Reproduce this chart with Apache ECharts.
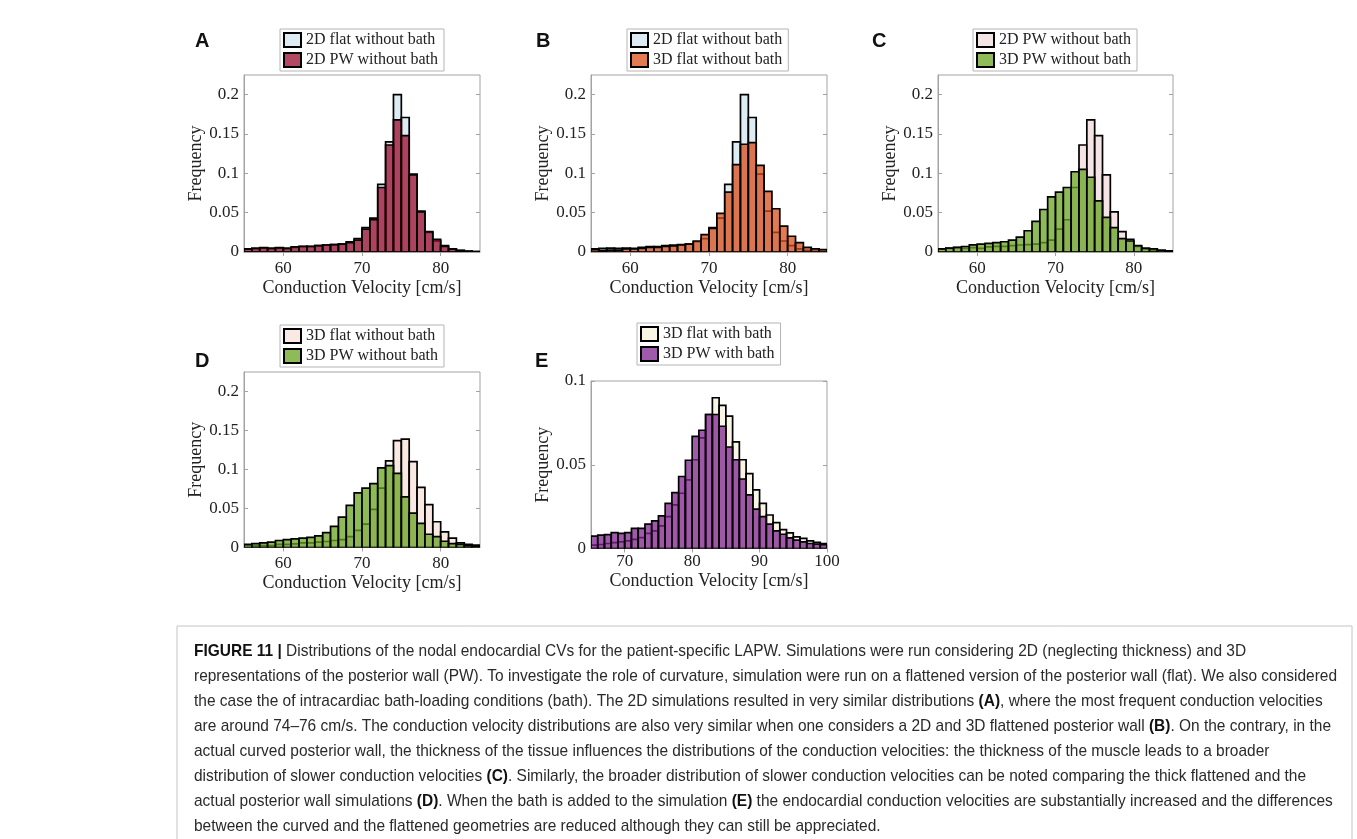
<!DOCTYPE html>
<html>
<head>
<meta charset="utf-8">
<script src="https://cdn.jsdelivr.net/npm/echarts@6/dist/echarts.min.js"></script>
<style>
html,body{margin:0;padding:0;background:#fff;}
#c{width:1357px;height:839px;}
</style>
</head>
<body>
<div id="c"></div>
<script>
// ---------- DATA ----------
const binStartAD = [55,56,57,58,59,60,61,62,63,64,65,66,67,68,69,70,71,72,73,74,75,76,77,78,79,80,81,82,83,84];
const binStartE = [65,66,67,68,69,70,71,72,73,74,75,76,77,78,79,80,81,82,83,84,85,86,87,88,89,90,91,92,93,94,95,96,97,98,99];
const binWidth = 1;

// 2D flat without bath
const flat2D = [0.004,0.0045,0.005,0.0045,0.005,0.0045,0.006,0.007,0.007,0.008,0.0089,0.0094,0.010,0.013,0.017,0.031,0.043,0.086,0.140,0.200,0.171,0.099,0.052,0.025,0.014,0.008,0.004,0.002,0.001,0.0005];
// 2D PW without bath
const pw2D = [0.0035,0.0047,0.0055,0.0047,0.0055,0.0047,0.0064,0.0072,0.0072,0.008,0.0089,0.0094,0.010,0.012,0.015,0.029,0.041,0.082,0.136,0.168,0.148,0.098,0.051,0.026,0.016,0.007,0.0035,0.002,0.001,0.0005];
// 3D flat without bath
const flat3D = [0.003,0.002,0.0025,0.0025,0.004,0.004,0.0047,0.006,0.006,0.007,0.0077,0.009,0.010,0.014,0.022,0.030,0.049,0.076,0.111,0.137,0.139,0.110,0.077,0.055,0.033,0.020,0.012,0.006,0.004,0.003];
// 3D PW without bath
const pw3D = [0.004,0.005,0.006,0.007,0.009,0.010,0.011,0.012,0.013,0.015,0.019,0.027,0.039,0.054,0.070,0.076,0.082,0.102,0.105,0.095,0.065,0.044,0.031,0.017,0.014,0.008,0.005,0.004,0.0025,0.0015];
// 3D flat with bath
const flatBath = [0.002,0.0024,0.003,0.0035,0.004,0.0045,0.0055,0.0065,0.009,0.0105,0.0135,0.019,0.026,0.033,0.041,0.053,0.066,0.080,0.090,0.0855,0.079,0.0636,0.053,0.0447,0.035,0.027,0.020,0.0155,0.0113,0.0093,0.007,0.006,0.0046,0.0036,0.003];
// 3D PW with bath
const pwBath = [0.0074,0.008,0.0083,0.0095,0.009,0.0095,0.012,0.012,0.0145,0.0165,0.0195,0.027,0.0334,0.043,0.0527,0.067,0.0706,0.080,0.080,0.073,0.0606,0.053,0.0415,0.032,0.0235,0.019,0.0145,0.0105,0.0085,0.0064,0.005,0.004,0.003,0.0026,0.0023];

const xTicksAD = [60,70,80];
const yTicksAD = [0,0.05,0.1,0.15,0.2];
const xTicksE = [70,80,90,100];
const yTicksE = [0,0.05,0.1];

const captionLines = [
  "{b|FIGURE 11 |} Distributions of the nodal endocardial CVs for the patient-specific LAPW. Simulations were run considering 2D (neglecting thickness) and 3D",
  "representations of the posterior wall (PW). To investigate the role of curvature, simulation were run on a flattened version of the posterior wall (flat). We also considered",
  "the case the of intracardiac bath-loading conditions (bath). The 2D simulations resulted in very similar distributions {b|(A)}, where the most frequent conduction velocities",
  "are around 74–76 cm/s. The conduction velocity distributions are also very similar when one considers a 2D and 3D flattened posterior wall {b|(B)}. On the contrary, in the",
  "actual curved posterior wall, the thickness of the tissue influences the distributions of the conduction velocities: the thickness of the muscle leads to a broader",
  "distribution of slower conduction velocities {b|(C)}. Similarly, the broader distribution of slower conduction velocities can be noted comparing the thick flattened and the",
  "actual posterior wall simulations {b|(D)}. When the bath is added to the simulation {b|(E)} the endocardial conduction velocities are substantially increased and the differences",
  "between the curved and the flattened geometries are reduced although they can still be appreciated."
];

// ---------- STYLE / LAYOUT ----------
const C = {
  blue: 'rgba(198,223,235,0.6)',
  crimson: 'rgba(155,11,46,0.75)',
  orange: 'rgba(216,78,24,0.75)',
  lpink: 'rgba(238,210,213,0.6)',
  green: 'rgba(104,163,32,0.75)',
  peach: 'rgba(247,217,207,0.6)',
  cream: 'rgba(245,238,210,0.6)',
  purple: 'rgba(128,35,144,0.75)'
};
const SERIF = '"Liberation Serif", "Times New Roman", serif';
const SANS = '"Liberation Sans", Arial, sans-serif';

function toData(starts, vals){ return starts.map((s,i)=>[s, s+binWidth, vals[i]]); }

const panels = [
  {letter:'A', grid:{left:244,top:75,width:236,height:177}, xr:[55,85], yMax:0.225, xt:xTicksAD, yt:yTicksAD,
   back:{name:'2D flat without bath', starts:binStartAD, vals:flat2D, color:C.blue},
   front:{name:'2D PW without bath', starts:binStartAD, vals:pw2D, color:C.crimson},
   legend:{left:280, top:29}, lp:[195,41], xGap:27, xMargin:8},
  {letter:'B', grid:{left:591,top:75,width:236,height:177}, xr:[55,85], yMax:0.225, xt:xTicksAD, yt:yTicksAD,
   back:{name:'2D flat without bath', starts:binStartAD, vals:flat2D, color:C.blue},
   front:{name:'3D flat without bath', starts:binStartAD, vals:flat3D, color:C.orange},
   legend:{left:627, top:29}, lp:[536,41], xGap:27, xMargin:8},
  {letter:'C', grid:{left:938,top:75,width:235,height:177}, xr:[55,85], yMax:0.225, xt:xTicksAD, yt:yTicksAD,
   back:{name:'2D PW without bath', starts:binStartAD, vals:pw2D, color:C.lpink},
   front:{name:'3D PW without bath', starts:binStartAD, vals:pw3D, color:C.green},
   legend:{left:973, top:29}, lp:[872,41], xGap:27, xMargin:8},
  {letter:'D', grid:{left:244,top:372,width:236,height:175.5}, xr:[55,85], yMax:0.225, xt:xTicksAD, yt:yTicksAD,
   back:{name:'3D flat without bath', starts:binStartAD, vals:flat3D, color:C.peach},
   front:{name:'3D PW without bath', starts:binStartAD, vals:pw3D, color:C.green},
   legend:{left:280, top:325}, lp:[195,361], xGap:27, xMargin:8},
  {letter:'E', grid:{left:591,top:381,width:236,height:167.5}, xr:[65,100], yMax:0.1, xt:xTicksE, yt:yTicksE,
   back:{name:'3D flat with bath', starts:binStartE, vals:flatBath, color:C.cream},
   front:{name:'3D PW with bath', starts:binStartE, vals:pwBath, color:C.purple},
   legend:{left:637, top:323}, lp:[535,361], xGap:24, xMargin:5}
];

const AX = '#a3a3a3';
const TXT = '#222';

const option = {
  backgroundColor:'#fff',
  animation:false,
  grid:[], xAxis:[], yAxis:[], series:[], legend:[], graphic:[]
};

function renderBar(color){
  return function(params, api){
    const x0 = api.value(0), x1 = api.value(1), y = api.value(2);
    const p0 = api.coord([x0, 0]);
    const p1 = api.coord([x1, y]);
    return {
      type:'rect',
      shape:{x:p0[0], y:p1[1], width:p1[0]-p0[0], height:p0[1]-p1[1]},
      style:{fill:color, stroke:'#000', lineWidth:1.7}
    };
  };
}

panels.forEach((p, i) => {
  option.grid.push(Object.assign({show:true, borderColor:AX, borderWidth:1, backgroundColor:'transparent'}, p.grid));
  const yfmt = v => String(+(+v).toFixed(3));
  option.xAxis.push({
    type:'value', gridIndex:i, min:p.xr[0], max:p.xr[1], position:'bottom',
    name:'Conduction Velocity [cm/s]', nameLocation:'middle', nameGap:p.xGap,
    nameTextStyle:{fontFamily:SERIF, fontSize:18, color:TXT},
    axisLine:{show:true, lineStyle:{color:AX, width:1}},
    axisTick:{show:true, inside:true, length:4, lineStyle:{color:AX}, customValues:p.xt},
    axisLabel:{show:true, customValues:p.xt, fontFamily:SERIF, fontSize:17, color:TXT, margin:p.xMargin, showMinLabel:true, showMaxLabel:true},
    splitLine:{show:false}
  });
  option.xAxis.push({
    type:'value', gridIndex:i, min:p.xr[0], max:p.xr[1], position:'top',
    axisLine:{show:false},
    axisTick:{show:true, inside:true, length:4, lineStyle:{color:AX}, customValues:p.xt},
    axisLabel:{show:false}, splitLine:{show:false}
  });
  option.yAxis.push({
    type:'value', gridIndex:i, min:0, max:p.yMax, position:'left',
    name:'Frequency', nameLocation:'middle', nameGap:38,
    nameTextStyle:{fontFamily:SERIF, fontSize:18, color:TXT},
    axisLine:{show:true, lineStyle:{color:AX, width:1}},
    axisTick:{show:true, inside:true, length:4, lineStyle:{color:AX}, customValues:p.yt},
    axisLabel:{show:true, customValues:p.yt, formatter:yfmt, fontFamily:SERIF, fontSize:17, color:TXT, margin:5},
    splitLine:{show:false}
  });
  option.yAxis.push({
    type:'value', gridIndex:i, min:0, max:p.yMax, position:'right',
    axisLine:{show:false},
    axisTick:{show:true, inside:true, length:4, lineStyle:{color:AX}, customValues:p.yt},
    axisLabel:{show:false}, splitLine:{show:false}
  });
  [p.back, p.front].forEach(s => {
    option.series.push({
      type:'custom', name:s.name, xAxisIndex:2*i, yAxisIndex:2*i, clip:true,
      renderItem:renderBar(s.color),
      encode:{x:[0,1], y:2},
      itemStyle:{color:s.color, borderColor:'#000'},
      data:toData(s.starts, s.vals)
    });
  });
  option.legend.push({
    left:p.legend.left, top:p.legend.top, orient:'vertical', selectedMode:false,
    itemWidth:17, itemHeight:14, itemGap:4, padding:[3,6,3,3],
    borderColor:'#b5b5b5', borderWidth:1, backgroundColor:'#fff', borderRadius:0,
    icon:'rect',
    textStyle:{fontFamily:SERIF, fontSize:16, color:TXT},
    data:[p.back, p.front].map(s => ({name:s.name, icon:'rect', itemStyle:{color:s.color, borderColor:'#000', borderWidth:2}}))
  });
  option.graphic.push({
    type:'text', x:p.lp[0], y:p.lp[1],
    style:{text:p.letter, fontFamily:SANS, fontWeight:'bold', fontSize:20, fill:'#111', verticalAlign:'middle', align:'left'}
  });
});

// caption
const CAP_FONT = 17;
const cv = document.createElement('canvas').getContext('2d');
cv.font = CAP_FONT + 'px "Liberation Sans"';
const plain = s => s.replace(/\{b\|([^}]*)\}/g, '$1');
const refW = cv.measureText(plain(captionLines[1])).width;
const sx = 1143 / refW;
option.graphic.push({
  type:'rect', shape:{x:177, y:626, width:1175, height:240},
  style:{fill:'none', stroke:'#c4c4c4', lineWidth:1}, silent:true
});
captionLines.forEach((line, k) => {
  option.graphic.push({
    type:'text', x:194, y:651 + 25*k, scaleX:sx, scaleY:1,
    style:{
      text:line, fontFamily:SANS, fontSize:CAP_FONT, fill:'#2a2a2a', verticalAlign:'middle', align:'left',
      rich:{b:{fontFamily:SANS, fontSize:CAP_FONT, fontWeight:'bold', fill:'#111'}}
    }
  });
});

const chart = echarts.init(document.getElementById('c'), null, {renderer:'canvas'});
chart.setOption(option);
</script>
</body>
</html>
